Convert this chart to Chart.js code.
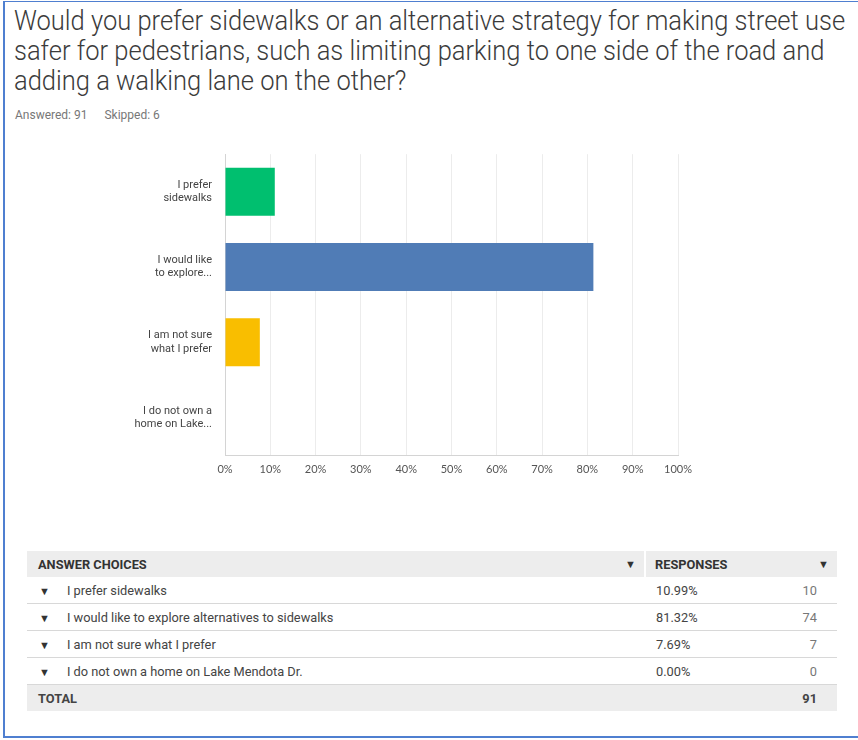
<!DOCTYPE html>
<html>
<head>
<meta charset="utf-8">
<script src="https://cdn.jsdelivr.net/npm/chart.js@4"></script>
<style>
  body{margin:0;background:#fff;font-family:"Roboto",sans-serif;color:#333;}
  #frame{position:absolute;left:3px;top:1px;width:870px;height:734px;border-left:2px solid #4f7fd0;border-top:1px solid #4f7fd0;border-bottom:2px solid #4f7fd0;}
  #title{position:absolute;left:14px;top:6px;font-size:27px;line-height:30px;color:#3b3b3b;font-weight:300;}
  #title div{white-space:nowrap;transform:scaleX(0.945);transform-origin:left;}
  #meta{position:absolute;left:15px;top:108px;font-size:12px;color:#777;}
  #meta span{margin-right:14px;}
  #chartBox{position:absolute;left:0;top:128px;width:700px;height:357px;}
  table{position:absolute;left:27px;top:551px;width:810px;border-collapse:collapse;table-layout:fixed;font-size:12.8px;}
  td{height:26px;padding:0;border-bottom:1px solid #d8d8d8;color:#444;overflow:hidden;white-space:nowrap;}
  tr.head td{background:#ededed;font-weight:bold;color:#333;border-bottom:none;}
  tr.total td{background:#ededed;font-weight:bold;border-bottom:none;}
  .arrow{font-size:11px;color:#333;}
  .sep{border-left:2px solid #fff;}
</style>
</head>
<body>
<div id="frame"></div>
<div id="title">
<div>Would you prefer sidewalks or an alternative strategy for making street use</div>
<div>safer for pedestrians, such as limiting parking to one side of the road and</div>
<div>adding a walking lane on the other?</div>
</div>
<div id="meta"><span>Answered: 91</span> <span>Skipped: 6</span></div>
<div id="chartBox"><canvas id="surveyChart"></canvas></div>
<table id="tbl">
<colgroup><col style="width:590px"><col style="width:28px"><col style="width:140px"><col style="width:52px"></colgroup>
<tbody id="tblBody"></tbody>
</table>
<script>
const choices = [
    "I prefer sidewalks",
    "I would like to explore alternatives to sidewalks",
    "I am not sure what I prefer",
    "I do not own a home on Lake Mendota Dr."
];
const shortLabels = [
    ["I prefer","sidewalks"],
    ["I would like","to explore..."],
    ["I am not sure","what I prefer"],
    ["I do not own a","home on Lake..."]
];
const percents = [10.99, 81.32, 7.69, 0.00];
const counts = [10, 74, 7, 0];
const total = 91;
const barColors = ["#00bf6f","#507cb6","#f9be00","#9fa4a8"];

function buildTable(){
    let html = `<tr class="head">
<td style="padding-left:11px;">ANSWER CHOICES</td>
<td style="text-align:center;" class="arrow">▼</td>
<td class="sep" style="padding-left:9px;">RESPONSES</td>
<td style="text-align:right;padding-right:8px;" class="arrow">▼</td>
</tr>`;
    for(let i=0;i<choices.length;i++){
        html += `<tr>
<td style="padding-left:12px;"><span class="arrow" style="margin-right:17px;">▼</span>${choices[i]}</td>
<td></td>
<td style="padding-left:11px;">${percents[i].toFixed(2)}%</td>
<td style="text-align:right;padding-right:20px;color:#777;">${counts[i]}</td>
</tr>`;
    }
    html += `<tr class="total">
<td style="padding-left:11px;">TOTAL</td><td></td><td></td>
<td style="text-align:right;padding-right:20px;">${total}</td>
</tr>`;
    document.getElementById("tblBody").innerHTML = html;
}

buildTable();

new Chart(document.getElementById("surveyChart"),{
    type:"bar",
    data:{
        labels:shortLabels,
        datasets:[{
            data:percents,
            backgroundColor:barColors,
            barPercentage:0.64,
            categoryPercentage:1
        }]
    },
    options:{
        indexAxis:"y",
        responsive:true,
        maintainAspectRatio:false,
        animation:false,
        layout:{padding:{top:5,right:22,left:0,bottom:0}},
        plugins:{legend:{display:false},tooltip:{enabled:false}},
        scales:{
            x:{
                min:0,
                max:100,
                ticks:{
                    stepSize:10,
                    padding:8,
                    color:"#555",
                    font:{family:"Lato",size:11},
                    callback:(v)=>v+"%"
                },
                grid:{color:"#ececec",drawTicks:false},
                border:{color:"#d4d4d4",width:1},
                afterFit:(s)=>{s.height = 30;}
            },
            y:{
                ticks:{
                    padding:13,
                    color:"#444",
                    font:{family:"Roboto",size:11}
                },
                grid:{display:false,drawTicks:false},
                border:{color:"#d4d4d4",width:1},
                afterFit:(s)=>{s.width = 225;}
            }
        }
    }
});
</script>
</body>
</html>
